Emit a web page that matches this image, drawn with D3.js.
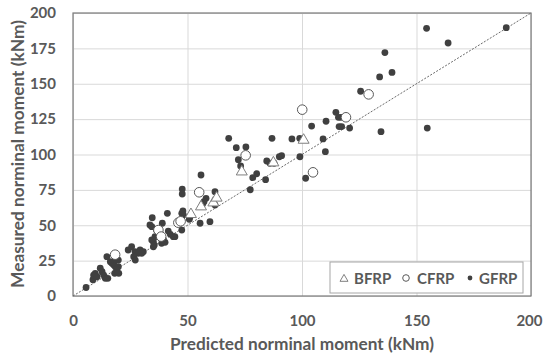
<!DOCTYPE html>
<html>
<head>
<meta charset="utf-8">
<style>
  body { margin: 0; background: #fff; }
  svg text { font-family: Lato, "Open Sans", sans-serif; font-weight: bold; fill: #595959; }
</style>
</head>
<body>
<div id="chart"></div>
<script src="https://cdn.jsdelivr.net/npm/d3@7"></script>
<script>
// ticks
var xTicks = [0, 50, 100, 150, 200];
var yTicks = [0, 25, 50, 75, 100, 125, 150, 175, 200];

// series: [predicted, measured]
var bfrp = [[51.5, 57.7], [55.9, 63.1], [61.3, 65.9], [62.7, 69.3], [73.7, 87.8], [87.5, 94.2], [100.7, 110.2]];

var cfrp = [[18.4, 29.2], [37.3, 46.6], [38.5, 42], [46, 51.8], [47, 52.8], [55.1, 73.3], [75.4, 99.4],
            [100.1, 131.7], [104.8, 87.4], [119.2, 126.3], [129.1, 142.5]];

var gfrp = [
  [5.7, 6], [8.7, 11.5], [9, 14.8], [9.7, 16], [10.5, 13.6], [11.9, 19.6], [12.7, 17.2], [13.4, 14.8],
  [14.1, 12.5], [15.2, 12.5], [14.8, 27.8], [16.3, 24.2], [17, 23.1], [17.8, 21.9], [18.5, 20.7],
  [18.5, 25.4], [18.2, 16], [19.2, 17.2], [20, 16], [19.8, 25.4], [19.8, 20.7], [19.1, 18.4],
  [24.1, 32.5], [25.6, 34.8], [27.1, 31.3], [29.3, 32.5], [28.5, 30.2], [30, 30.2], [26.5, 27.8],
  [27.2, 25.4], [30.7, 31.3],
  [33.6, 50.2], [34.4, 49], [34.6, 55.3], [41.2, 58.4], [39, 51.4], [41.6, 45.9], [42.5, 43.6],
  [43.8, 41.9], [44.5, 41.9], [47.5, 58.4], [47.5, 53.7], [47.5, 46.6], [34.4, 39.6], [35.1, 38.4],
  [35.5, 36], [39.4, 39.6], [40.2, 37.9], [36.5, 46.6], [37.3, 44.3], [35.8, 41.9], [38.7, 37.2],
  [35.1, 34.8], [48, 60.1], [48.2, 57.2], [47.7, 75.6], [47.7, 72.1],
  [51.1, 56], [50.8, 54.2], [55.5, 51.4], [59.8, 52.5], [58.1, 69], [57.2, 66.6], [56.6, 65],
  [62, 73.7], [62, 64.3], [55.9, 85.5],
  [68, 111.4], [71.3, 104.8], [75.5, 105.3], [72.2, 96.3], [73.2, 91.9], [77.4, 75.1], [78.5, 83.6],
  [80.2, 86.4], [84.1, 82.2], [84.6, 95.4], [86, 93.8], [87.8, 93.8], [86.9, 111.4], [90.1, 98.4],
  [91.1, 99.2], [95.6, 111], [99, 111.4], [99.1, 98.4],
  [101.6, 83.2], [104.2, 120.1], [109.2, 111], [110.2, 102], [110.5, 123.5], [114.8, 129.8],
  [115.9, 126.3], [117, 126.3], [116.2, 119.7], [117.3, 119.7], [120.8, 118.7], [125.6, 144.7],
  [134.5, 116.1], [133.9, 154.8], [136.2, 172], [139.3, 158], [154.4, 189.2], [163.8, 178.8],
  [189.2, 189.6], [154.7, 118.7]
];

var xTitle = "Predicted norminal moment (kNm)";
var yTitle = "Measured norminal moment (kNm)";

var W = 543, H = 358;
var plot = { left: 73, right: 531, top: 13, bottom: 296 };

var svg = d3.select("#chart").append("svg")
    .attr("width", W)
    .attr("height", H);

var x = d3.scaleLinear().domain([0, 200]).range([plot.left, plot.right]);
var y = d3.scaleLinear().domain([0, 200]).range([plot.bottom, plot.top]);

// grid lines
svg.append("g")
    .attr("transform", "translate(0," + plot.bottom + ")")
    .call(d3.axisBottom(x).tickValues(xTicks).tickSize(-(plot.bottom - plot.top)).tickFormat(""))
    .call(function (g) { g.select(".domain").remove(); })
    .selectAll("line").attr("stroke", "#d9d9d9");

svg.append("g")
    .attr("transform", "translate(" + plot.left + ",0)")
    .call(d3.axisLeft(y).tickValues(yTicks).tickSize(-(plot.right - plot.left)).tickFormat(""))
    .call(function (g) { g.select(".domain").remove(); })
    .selectAll("line").attr("stroke", "#d9d9d9");

// tick labels
var xLab = svg.append("g")
    .attr("transform", "translate(0," + plot.bottom + ")")
    .call(d3.axisBottom(x).tickValues(xTicks).tickSize(0).tickPadding(19))
    .call(function (g) { g.select(".domain").remove(); });
xLab.selectAll("text")
    .attr("font-size", 15)
    .attr("font-family", null)
    .attr("fill", null);
// last label is pulled in so it stays on the page
xLab.selectAll("text").filter(function (d) { return d === 200; })
    .attr("text-anchor", "end")
    .attr("x", W - 1 - x(200));

svg.append("g")
    .attr("transform", "translate(" + plot.left + ",0)")
    .call(d3.axisLeft(y).tickValues(yTicks).tickSize(0).tickPadding(17))
    .call(function (g) { g.select(".domain").remove(); })
    .selectAll("text")
    .attr("font-size", 15)
    .attr("font-family", null)
    .attr("fill", null);

// border of plot area
svg.append("rect")
    .attr("x", plot.left).attr("y", plot.top)
    .attr("width", plot.right - plot.left).attr("height", plot.bottom - plot.top)
    .attr("fill", "none").attr("stroke", "#7a7a7a").attr("stroke-width", 1.2);

// 1:1 line
svg.append("line")
    .attr("x1", x(0)).attr("y1", y(0))
    .attr("x2", x(200)).attr("y2", y(200))
    .attr("stroke", "#6a6a6a").attr("stroke-width", 1)
    .attr("stroke-dasharray", "2,1.5");

// points
var triPath = function (s) {
  var h = s * Math.sqrt(3) / 2;
  return "M0," + (-h * 2 / 3) + "L" + (s / 2) + "," + (h / 3) + "L" + (-s / 2) + "," + (h / 3) + "Z";
};

svg.append("g").selectAll("circle")
    .data(gfrp).enter().append("circle")
    .attr("cx", function (d) { return x(d[0]); })
    .attr("cy", function (d) { return y(d[1]); })
    .attr("r", 3.4)
    .attr("fill", "#404040");

svg.append("g").selectAll("circle")
    .data(cfrp).enter().append("circle")
    .attr("cx", function (d) { return x(d[0]); })
    .attr("cy", function (d) { return y(d[1]); })
    .attr("r", 4.8)
    .attr("fill", "#fff")
    .attr("stroke", "#595959")
    .attr("stroke-width", 1);

svg.append("g").selectAll("path")
    .data(bfrp).enter().append("path")
    .attr("transform", function (d) { return "translate(" + x(d[0]) + "," + y(d[1]) + ")"; })
    .attr("d", triPath(11))
    .attr("fill", "#fff")
    .attr("stroke", "#7f7f7f")
    .attr("stroke-width", 1);

// axis titles, font sized so that each spans the same length as in the original
function fitText(sel, target) {
  var w = sel.node().getComputedTextLength();
  sel.attr("font-size", 16 * target / w);
}

var xt = svg.append("text")
    .attr("x", 302)
    .attr("y", 350)
    .attr("text-anchor", "middle")
    .attr("font-size", 16)
    .text(xTitle);
fitText(xt, 264);

var yt = svg.append("text")
    .attr("transform", "translate(24,154) rotate(-90)")
    .attr("text-anchor", "middle")
    .attr("font-size", 16)
    .text(yTitle);
fitText(yt, 268);

// legend
var leg = svg.append("g");
leg.append("rect")
    .attr("x", 330).attr("y", 262).attr("width", 193).attr("height", 31)
    .attr("fill", "#fff").attr("stroke", "#a6a6a6").attr("stroke-width", 1);

leg.append("path")
    .attr("transform", "translate(344,279)")
    .attr("d", triPath(8))
    .attr("fill", "#fff").attr("stroke", "#7f7f7f");
leg.append("text").attr("x", 354).attr("y", 283.5).attr("font-size", 15).text("BFRP");

leg.append("circle")
    .attr("cx", 406).attr("cy", 278).attr("r", 3.3)
    .attr("fill", "#fff").attr("stroke", "#595959");
leg.append("text").attr("x", 417).attr("y", 283.5).attr("font-size", 15).text("CFRP");

leg.append("circle")
    .attr("cx", 470).attr("cy", 278).attr("r", 2.4)
    .attr("fill", "#404040");
leg.append("text").attr("x", 479).attr("y", 283.5).attr("font-size", 15).text("GFRP");
</script>
</body>
</html>
